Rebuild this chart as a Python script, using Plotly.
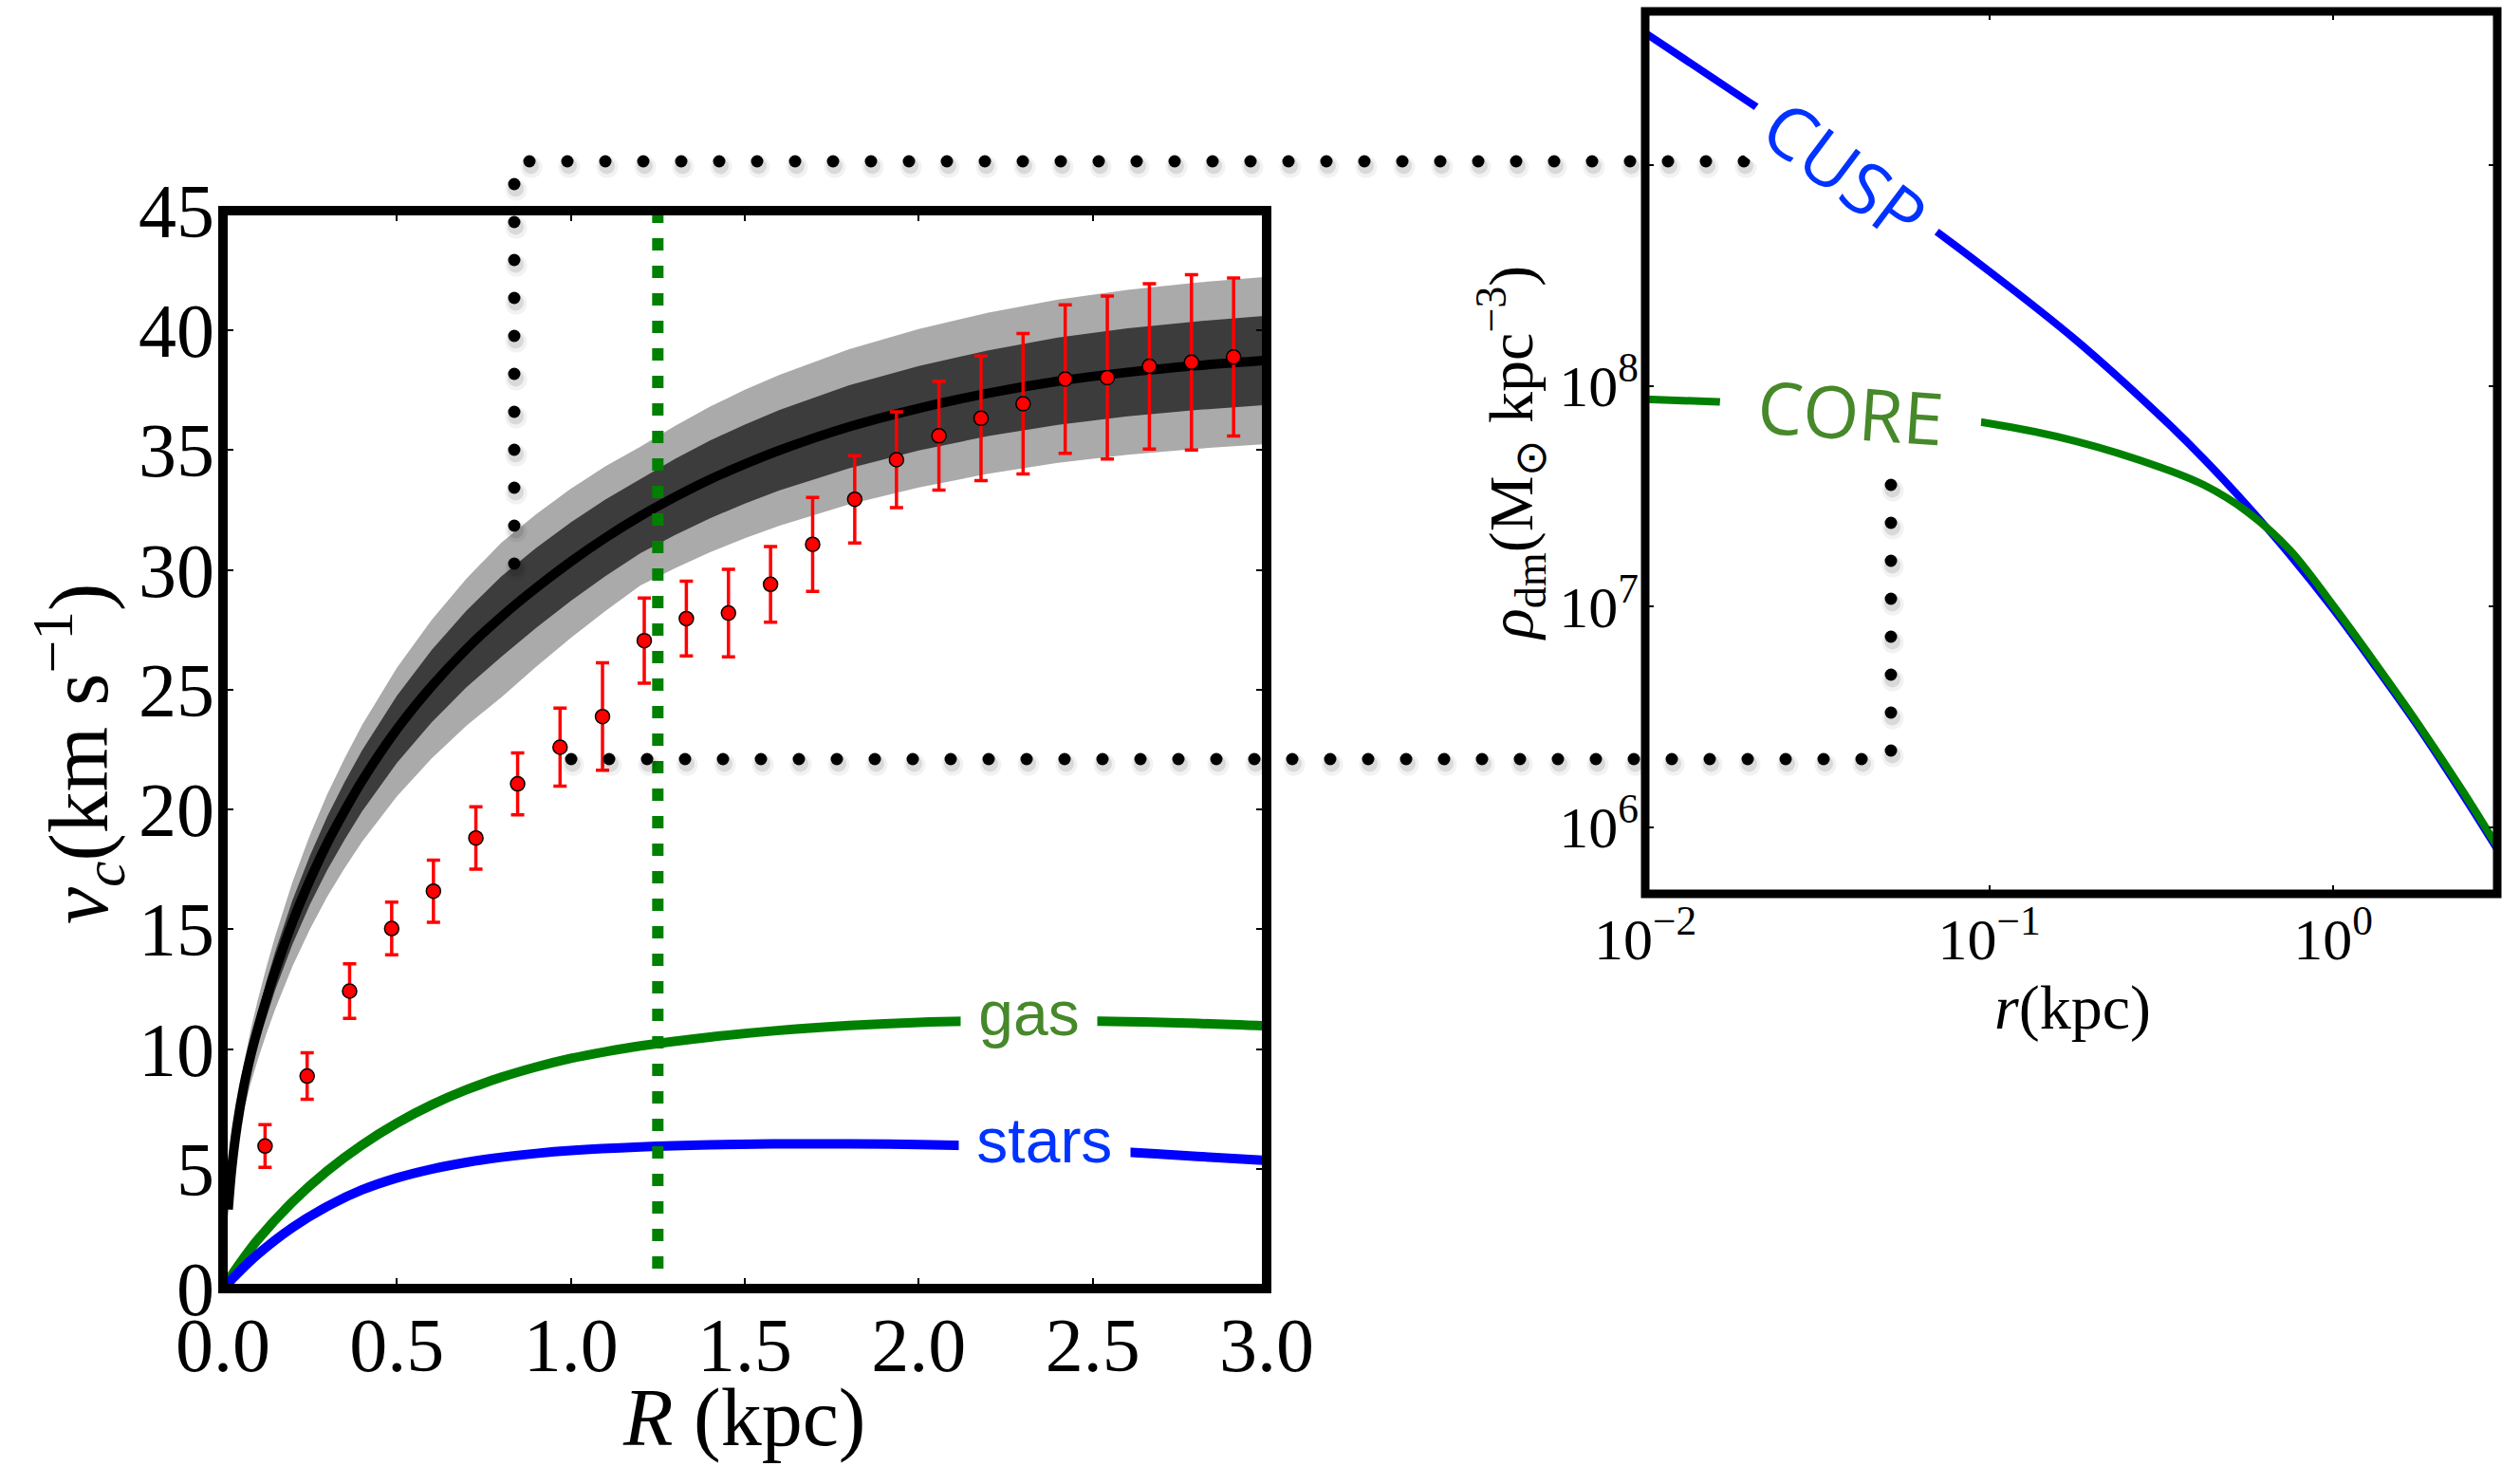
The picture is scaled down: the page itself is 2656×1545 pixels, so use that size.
import numpy as np
import plotly.graph_objects as go

W, H = 2656, 1545

# ---------------- Left panel: rotation curve ----------------
R_model = [0.015, 0.025, 0.04, 0.06, 0.08, 0.10, 0.125, 0.15, 0.20, 0.25, 0.30, 0.35, 0.40, 0.50, 0.60, 0.70,
           0.80, 0.90, 1.00, 1.10, 1.20, 1.30, 1.40, 1.50, 1.60, 1.80, 2.00, 2.20, 2.40, 2.60, 2.80, 3.00]
v_model = [3.3, 5.0, 6.75, 8.45, 9.75, 10.85, 12.1, 13.25, 15.3, 17.05, 18.6, 19.95, 21.2, 23.35, 25.15, 26.7,
           28.05, 29.25, 30.35, 31.35, 32.25, 33.05, 33.78, 34.42, 35.0, 35.98, 36.75, 37.38, 37.88, 38.25, 38.53, 38.75]
v_2sig_hi = [3.66, 5.55, 7.49, 9.38, 10.82, 12.04, 13.43, 14.71, 16.98, 18.93, 20.65, 22.14, 23.53, 25.92, 27.92, 29.64,
             31.14, 32.32, 33.39, 34.33, 35.15, 36.02, 36.82, 37.52, 38.15, 39.22, 40.06, 40.74, 41.29, 41.69, 42.00, 42.24]
v_2sig_lo = [2.90, 4.40, 5.94, 7.44, 8.58, 9.55, 10.65, 11.66, 13.46, 15.00, 16.37, 17.56, 18.66, 20.55, 22.13, 23.50,
             24.68, 25.96, 27.16, 28.29, 29.35, 30.08, 30.74, 31.32, 31.85, 32.74, 33.44, 34.02, 34.47, 34.81, 35.06, 35.26]
v_1sig_hi = [3.50, 5.30, 7.16, 8.96, 10.34, 11.50, 12.83, 14.05, 16.22, 18.07, 19.72, 21.15, 22.47, 24.75, 26.66, 28.30,
             29.73, 30.92, 31.99, 32.95, 33.80, 34.64, 35.40, 36.07, 36.68, 37.71, 38.51, 39.17, 39.70, 40.09, 40.38, 40.61]
v_1sig_lo = [3.10, 4.70, 6.35, 7.94, 9.17, 10.20, 11.37, 12.46, 14.38, 16.03, 17.48, 18.75, 19.93, 21.95, 23.64, 25.10,
             26.37, 27.58, 28.71, 29.75, 30.70, 31.46, 32.16, 32.77, 33.32, 34.25, 34.99, 35.59, 36.06, 36.41, 36.68, 36.89]

R_obs = [0.121, 0.242, 0.364, 0.485, 0.605, 0.727, 0.847, 0.969, 1.091, 1.211, 1.332, 1.453,
         1.574, 1.695, 1.816, 1.936, 2.058, 2.179, 2.300, 2.421, 2.542, 2.663, 2.784, 2.905]
v_obs = [5.95, 8.87, 12.42, 15.03, 16.59, 18.81, 21.07, 22.60, 23.88, 27.05, 27.97, 28.20,
         29.40, 31.07, 32.95, 34.60, 35.60, 36.33, 36.94, 37.97, 38.03, 38.50, 38.67, 38.89]
v_err = [0.89, 0.97, 1.14, 1.10, 1.30, 1.30, 1.29, 1.63, 2.24, 1.78, 1.56, 1.83,
         1.58, 1.96, 1.82, 2.00, 2.27, 2.60, 2.93, 3.10, 3.40, 3.45, 3.66, 3.30]

R_gas = [0.0, 0.05, 0.1, 0.2, 0.3, 0.4, 0.5, 0.6, 0.7, 0.8, 0.9, 1.0, 1.1, 1.2,
         1.4, 1.6, 1.8, 2.0, 2.2, 2.4, 2.6, 2.8, 3.0]
v_gas = [0.0, 1.08, 2.04, 3.62, 4.92, 6.0, 6.91, 7.67, 8.3, 8.82, 9.25, 9.61, 9.89, 10.13,
         10.5, 10.78, 10.98, 11.11, 11.17, 11.18, 11.14, 11.07, 10.96]

R_stars = [0.0, 0.05, 0.1, 0.2, 0.3, 0.4, 0.5, 0.6, 0.7, 0.8, 0.9, 1.0, 1.2, 1.4, 1.6,
           1.8, 2.0, 2.2, 2.4, 2.6, 2.8, 3.0]
v_stars = [0.0, 0.75, 1.43, 2.55, 3.43, 4.12, 4.62, 4.99, 5.27, 5.48, 5.64, 5.76, 5.91, 6.0, 6.04,
           6.04, 6.01, 5.95, 5.85, 5.69, 5.52, 5.35]

R_half = 1.25           # vertical dashed marker (kpc)

x_ticks = [0.0, 0.5, 1.0, 1.5, 2.0, 2.5, 3.0]
x_ticklabels = ["0.0", "0.5", "1.0", "1.5", "2.0", "2.5", "3.0"]
y_ticks = [0, 5, 10, 15, 20, 25, 30, 35, 40, 45]

# ---------------- Right panel: density profiles ----------------
r_dm = [0.01, 0.0178, 0.0316, 0.0562, 0.1, 0.178, 0.316, 0.422, 0.562, 0.75, 1.0, 1.33, 1.78, 2.37, 3.0]
log_rho_cusp = [9.60, 9.34, 9.08, 8.81, 8.52, 8.21, 7.86, 7.667, 7.458, 7.232, 6.988, 6.726, 6.448, 6.153, 5.90]
log_rho_core = [7.94, 7.925, 7.905, 7.875, 7.83, 7.75, 7.63, 7.55, 7.43, 7.255, 7.005, 6.74, 6.46, 6.168, 5.912]
rho_cusp = [10 ** v for v in log_rho_cusp]
rho_core = [10 ** v for v in log_rho_core]

r_ticks = [0.01, 0.1, 1.0]
r_ticklabels = ["10<sup>\u22122</sup>", "10<sup>\u22121</sup>", "10<sup>0</sup>"]
rho_ticks = [1e6, 1e7, 1e8, 1e9]
rho_ticklabels = ["10<sup>6</sup>", "10<sup>7</sup>", "10<sup>8</sup>", ""]

# ---------------- Zoom connector paths (figure pixel frame) ----------------
connector_a = [(542, 594), (542, 170), (1838, 170)]
connector_b = [(602, 800), (1993, 800), (1993, 509)]
DOT_STEP = 40.0


def dots_along(path, step):
    pts = np.array(path, dtype=float)
    seg = np.diff(pts, axis=0)
    seglen = np.hypot(seg[:, 0], seg[:, 1])
    cum = np.concatenate([[0], np.cumsum(seglen)])
    xs, ys = [], []
    s = 0.0
    while s <= cum[-1] + 1e-6:
        i = min(np.searchsorted(cum, s, side="right") - 1, len(seglen) - 1)
        t = (s - cum[i]) / seglen[i]
        p = pts[i] + t * seg[i]
        xs.append(p[0]); ys.append(p[1])
        s += step
    return xs, ys


# ---------------- Layout geometry ----------------
L_X = [235 / W, 1335 / W]
L_Y = [1 - 1358 / H, 1 - 222 / H]
R_X = [1734 / W, 2632 / W]
R_Y = [1 - 942 / H, 1 - 12 / H]

SERIF = "Liberation Serif, Times New Roman, serif"
SANS = "Liberation Sans, Arial, sans-serif"
HUMAN = "Open Sans, Noto Sans, sans-serif"

fig = go.Figure()

# bands (2 sigma, 1 sigma)
fig.add_trace(go.Scatter(x=R_model + R_model[::-1], y=v_2sig_hi + v_2sig_lo[::-1], fill="toself",
                         fillcolor="#aaaaaa", line=dict(width=0), mode="lines", hoverinfo="skip",
                         xaxis="x", yaxis="y"))
fig.add_trace(go.Scatter(x=R_model + R_model[::-1], y=v_1sig_hi + v_1sig_lo[::-1], fill="toself",
                         fillcolor="#3c3c3c", line=dict(width=0), mode="lines", hoverinfo="skip",
                         xaxis="x", yaxis="y"))
fig.add_trace(go.Scatter(x=R_model, y=v_model, mode="lines", line=dict(color="black", width=10, shape="spline"),
                         xaxis="x", yaxis="y"))
fig.add_trace(go.Scatter(x=R_gas, y=v_gas, mode="lines", line=dict(color="#008000", width=10, shape="spline"),
                         xaxis="x", yaxis="y"))
fig.add_trace(go.Scatter(x=R_stars, y=v_stars, mode="lines", line=dict(color="#0000ff", width=10, shape="spline"),
                         xaxis="x", yaxis="y"))
fig.add_trace(go.Scatter(x=[R_half, R_half], y=[45, 0], mode="lines",
                         line=dict(color="#008000", width=12, dash="13px,16px"), xaxis="x", yaxis="y"))
fig.add_trace(go.Scatter(x=R_obs, y=v_obs, mode="markers",
                         marker=dict(color="#ff0000", size=15, line=dict(color="black", width=1.5)),
                         error_y=dict(type="data", array=v_err, visible=True, color="#ff0000",
                                      thickness=3.5, width=7),
                         xaxis="x", yaxis="y"))

# right panel
fig.add_trace(go.Scatter(x=r_dm, y=rho_cusp, mode="lines", line=dict(color="#0000ff", width=8, shape="spline"),
                         xaxis="x2", yaxis="y2"))
fig.add_trace(go.Scatter(x=r_dm, y=rho_core, mode="lines", line=dict(color="#008000", width=8, shape="spline"),
                         xaxis="x2", yaxis="y2"))

# connectors (dotted, with soft shadow)
for path in (connector_a, connector_b):
    xs, ys = dots_along(path, DOT_STEP)
    fig.add_trace(go.Scatter(x=[x + 2 for x in xs], y=[y + 6 for y in ys], mode="markers",
                             marker=dict(color="rgba(0,0,0,0.05)", size=23, line=dict(width=0)),
                             xaxis="x3", yaxis="y3", hoverinfo="skip"))
    fig.add_trace(go.Scatter(x=[x + 1.5 for x in xs], y=[y + 5 for y in ys], mode="markers",
                             marker=dict(color="rgba(0,0,0,0.10)", size=17, line=dict(width=0)),
                             xaxis="x3", yaxis="y3", hoverinfo="skip"))
    fig.add_trace(go.Scatter(x=xs, y=ys, mode="markers",
                             marker=dict(color="black", size=13, line=dict(width=0)),
                             xaxis="x3", yaxis="y3", hoverinfo="skip"))

axis_common = dict(showgrid=False, zeroline=False, showline=False, ticks="inside", tickcolor="black",
                   tickwidth=1.5, mirror="ticks", automargin=False)

fig.update_layout(
    width=W, height=H, autosize=False, showlegend=False,
    margin=dict(l=0, r=0, t=0, b=0, pad=0),
    paper_bgcolor="white", plot_bgcolor="rgba(0,0,0,0)",
    xaxis=dict(domain=L_X, range=[0, 3], anchor="y", tickvals=x_ticks, ticktext=x_ticklabels,
               ticklen=11, tickfont=dict(family=SERIF, size=80, color="black"), ticklabelstandoff=6,
               **axis_common),
    yaxis=dict(domain=L_Y, range=[0, 45], anchor="x", tickvals=y_ticks, ticklen=11,
               tickfont=dict(family=SERIF, size=80, color="black"), ticklabelstandoff=8, **axis_common),
    xaxis2=dict(domain=R_X, type="log", range=[-2, np.log10(3.0)], anchor="y2", tickvals=r_ticks,
                ticktext=r_ticklabels, ticklen=9, tickfont=dict(family=SERIF, size=62, color="black"),
                ticklabelstandoff=6, **axis_common),
    yaxis2=dict(domain=R_Y, type="log", range=[5.697, 9.698], anchor="x2", tickvals=rho_ticks,
                ticktext=rho_ticklabels, ticklen=9, tickfont=dict(family=SERIF, size=62, color="black"),
                ticklabelstandoff=6, **axis_common),
    xaxis3=dict(domain=[0, 1], range=[0, W], anchor="y3", visible=False, fixedrange=True, automargin=False),
    yaxis3=dict(domain=[0, 1], range=[H, 0], anchor="x3", visible=False, fixedrange=True, automargin=False),
)

# spines
fig.add_shape(type="rect", xref="x domain", yref="y domain", x0=0, x1=1, y0=0, y1=1,
              line=dict(color="black", width=10), layer="above")
fig.add_shape(type="rect", xref="x2 domain", yref="y2 domain", x0=0, x1=1, y0=0, y1=1,
              line=dict(color="black", width=9), layer="above")


def P(px, py):
    return px / W, 1 - py / H


def add_text(text, px, py, size, family, color="black", angle=0, bg=None):
    x, y = P(px, py)
    fig.add_annotation(text=text, x=x, y=y, xref="paper", yref="paper", showarrow=False,
                       xanchor="center", yanchor="middle", textangle=angle,
                       font=dict(family=family, size=size, color=color),
                       bgcolor=bg if bg else "rgba(0,0,0,0)", borderpad=0)


NB = "\u00a0"
# axis titles
add_text("<i>v</i><sub><i>c</i></sub>(km" + NB + "s<sup>\u22121</sup>)", 82, 795, 88, SERIF, angle=-90)
add_text("<i>R</i>" + NB + "(kpc)", 784, 1494, 86, SERIF)
add_text("<i>r</i>(kpc)", 2184, 1062, 66, SERIF)
add_text("<i>\u03c1</i><sub>dm</sub>(M<sub>\u2299</sub>" + NB + "kpc<sup>\u22123</sup>)", 1592, 478, 66, SERIF,
         angle=-90)

# inline curve labels
add_text(NB + "gas" + NB, 1084, 1068, 66, SANS, color="#46882a", bg="white")
add_text(NB + "stars" + NB, 1101, 1202, 66, SANS, color="#0033ff", bg="white")
add_text(NB + "CUSP" + NB, 1945, 180, 76, HUMAN, color="#0033ff", angle=37, bg="white")
add_text(NB + NB + "CORE" + NB + NB, 1950, 433, 76, HUMAN, color="#46882a", angle=4, bg="white")

fig.write_html("out.html")
